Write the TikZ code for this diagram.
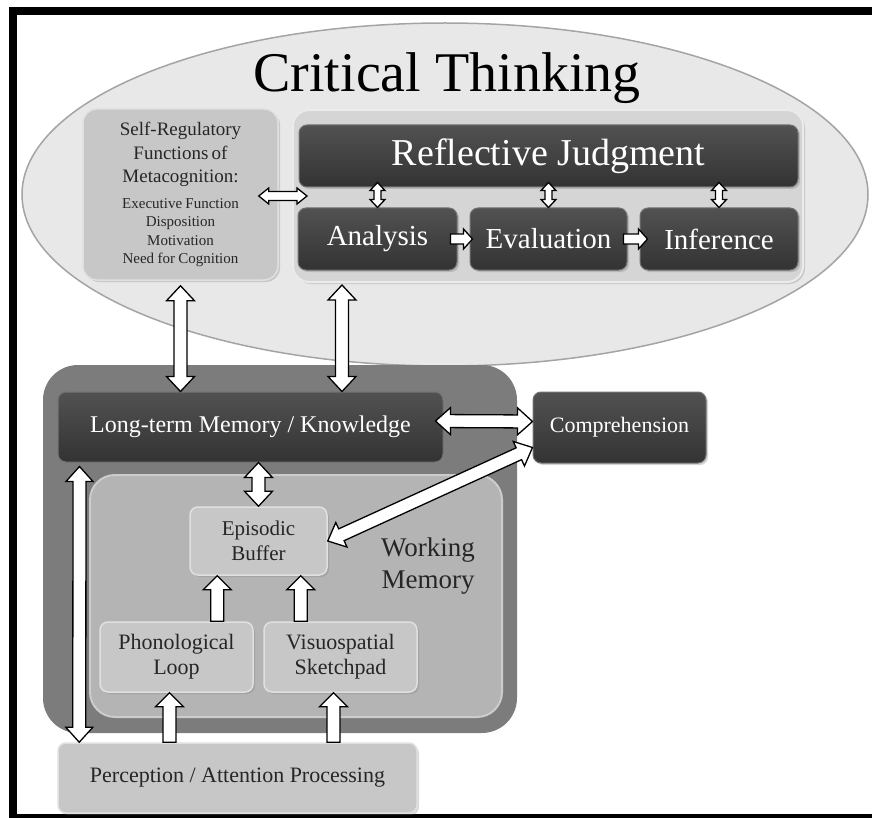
\documentclass[tikz,border=0pt]{standalone}
\usepackage{fontspec}
\setmainfont{Liberation Serif}
\usetikzlibrary{decorations.markings,shadows,shapes.geometric}

\definecolor{darkfill}{HTML}{3E3E3E}
\definecolor{ellfill}{HTML}{E8E8E8}
\definecolor{ellline}{HTML}{A4A4A4}
\definecolor{ctrfill}{HTML}{D5D5D5}
\definecolor{boxfill}{HTML}{C7C7C7}
\definecolor{outerfill}{HTML}{7C7C7C}
\definecolor{wmfill}{HTML}{B4B4B4}

\tikzset{
  arrline/.style={draw=black, line width=1.3pt, fill=white, line join=miter},
  twoway/.style n args={3}{decoration={markings, mark=at position 0 with {
      \def\arrlen{\pgfdecoratedpathlength}
      \draw[arrline] (0pt,0pt) -- (#1,#2) -- (#1,#3) -- ({\arrlen-#1},#3)
        -- ({\arrlen-#1},#2) -- ({\arrlen+0pt},0pt) -- ({\arrlen-#1},-#2)
        -- ({\arrlen-#1},-#3) -- (#1,-#3) -- (#1,-#2) -- cycle;}}, decorate},
  oneway/.style n args={3}{decoration={markings, mark=at position 0 with {
      \def\arrlen{\pgfdecoratedpathlength}
      \draw[arrline] (0pt,#3) -- ({\arrlen-#1},#3) -- ({\arrlen-#1},#2)
        -- ({\arrlen+0pt},0pt) -- ({\arrlen-#1},-#2) -- ({\arrlen-#1},-#3)
        -- (0pt,-#3) -- cycle;}}, decorate},
  darkbox/.style={rounded corners=8pt, inner sep=0pt, draw=black!55, line width=1pt,
    top color=black!68, bottom color=black!80, text=white,
    drop shadow={opacity=0.35, shadow xshift=2pt, shadow yshift=-2pt}},
  greybox/.style={rounded corners=8pt, inner sep=0pt, fill=boxfill, draw=white!88!black,
    line width=1.5pt, text=black!85,
    drop shadow={opacity=0.3, shadow xshift=2pt, shadow yshift=-2pt}},
}

\begin{document}
\begin{tikzpicture}[x=1pt, y=-1pt]
  \useasboundingbox (0,0) rectangle (872,818);
  \draw[line width=8pt] (880,11) -- (13,11) -- (13,818) -- (880,818);

  % critical thinking
  \node[ellipse, fill=ellfill, draw=ellline, line width=1.5pt, minimum width=846pt, minimum height=343pt] (ct) at (445,194.5) {};
  \node[anchor=base, font=\fontsize{56}{60}\selectfont] (title) at (447,92) {Critical Thinking};
  \node[greybox, rounded corners=14pt, minimum width=195pt, minimum height=171pt, text width=190pt, align=center] (selfreg) at (180.5,194.5)
    {{\fontsize{19}{23.5}\selectfont Self-Regulatory\par Functions of\par Metacognition:\par}\vspace{7.5pt}
     {\fontsize{15}{18.3}\selectfont Executive Function\par Disposition\par Motivation\par Need for Cognition\par}};
  \node[rounded corners=16pt, fill=ctrfill, draw=white!92!black, line width=2pt, minimum width=510pt, minimum height=172pt,
    drop shadow={opacity=0.3, shadow xshift=2pt, shadow yshift=-2pt}] (ctr) at (548,196) {};
  \node[darkbox, minimum width=499pt, minimum height=62pt, font=\fontsize{38}{40}\selectfont] (rj) at (548.5,156) {Reflective Judgment};
  \node[darkbox, minimum width=159pt, minimum height=62pt, font=\fontsize{29}{32}\selectfont] (ana) at (377.5,239) {Analysis};
  \node[darkbox, minimum width=157pt, minimum height=62pt, font=\fontsize{29}{32}\selectfont] (eva) at (548.5,239) {Evaluation};
  \node[darkbox, minimum width=158pt, minimum height=62pt, font=\fontsize{29}{32}\selectfont] (inf) at (719,239) {Inference};

  % memory
  \node[rounded corners=35pt, fill=outerfill, minimum width=474pt, minimum height=368pt] (mem) at (280,549) {};
  \node[darkbox, minimum width=385pt, minimum height=70pt, font=\fontsize{24}{28}\selectfont] (ltm) at (250.5,427) {Long-term Memory / Knowledge};
  \node[darkbox, minimum width=173pt, minimum height=71pt, font=\fontsize{22}{26}\selectfont] (comp) at (619.5,427.5) {Comprehension};
  \node[rounded corners=25pt, fill=wmfill, draw=white!80!black, line width=2pt, minimum width=412pt, minimum height=242pt] (wm) at (296,596) {};
  \node[align=center, font=\fontsize{27}{32}\selectfont, text=black!85] (wmtext) at (428,566) {Working\\Memory};
  \node[greybox, minimum width=137pt, minimum height=68pt, align=center, font=\fontsize{21}{25}\selectfont] (epi) at (258.5,541) {Episodic\\Buffer};
  \node[greybox, minimum width=153pt, minimum height=70pt, align=center, font=\fontsize{22}{25}\selectfont] (phon) at (176.5,657) {Phonological\\Loop};
  \node[greybox, minimum width=153pt, minimum height=70pt, align=center, font=\fontsize{22}{25}\selectfont] (visuo) at (340.5,657) {Visuospatial\\Sketchpad};
  \node[greybox, minimum width=359pt, minimum height=70pt, font=\fontsize{22}{26}\selectfont] (perc) at (237.5,778) {Perception / Attention Processing};

  % arrows inside critical thinking
  \foreach \n in {ana,eva,inf}
    \path[twoway={8pt}{7.5pt}{3.5pt}] ([yshift=5pt]rj.south -| \n.north) -- (\n.north);
  \path[twoway={10pt}{8pt}{4.5pt}] ([xshift=-20pt]selfreg.east |- ctr.west) -- ([xshift=15pt]ctr.west);
  \path[oneway={9pt}{10pt}{5pt}] ([xshift=-7pt]ana.east) -- ([xshift=3pt]eva.west);
  \path[oneway={9pt}{10pt}{5pt}] ([xshift=-4pt]eva.east) -- ([xshift=8pt]inf.west);

  % thinking <-> memory
  \coordinate (rjdown) at (342,285);
  \path[twoway={15pt}{14pt}{6.5pt}] ([yshift=-5pt]selfreg.south) -- (selfreg.south |- ltm.north);
  \path[twoway={15pt}{14pt}{6.5pt}] (rjdown) -- (rjdown |- ltm.north);
  \path[twoway={15pt}{13.5pt}{6.5pt}] ([xshift=-8pt,yshift=6pt]ltm.east) -- ([yshift=6pt]comp.west);
  \path[twoway={15pt}{13.5pt}{6.5pt}] ([yshift=-20pt]comp.west) -- (epi.east);
  \path[twoway={15pt}{14pt}{6.5pt}] (ltm.south -| epi.north) -- (epi.north);
  \path[twoway={15pt}{13.5pt}{6.5pt}] ([xshift=22pt,yshift=-4pt]ltm.south west) -- ([xshift=22pt]perc.north west);

  % into working memory
  \path[oneway={14pt}{14pt}{6.5pt}] ([xshift=28pt]epi.south west |- phon.north) -- ([xshift=28pt]epi.south west);
  \path[oneway={14pt}{14pt}{6.5pt}] ([xshift=-27pt]epi.south east |- visuo.north) -- ([xshift=-27pt]epi.south east);
  \path[oneway={14pt}{14pt}{6.5pt}] ([xshift=-7pt]phon.south |- perc.north) -- ([xshift=-7pt]phon.south);
  \path[oneway={14pt}{14pt}{6.5pt}] ([xshift=-7pt]visuo.south |- perc.north) -- ([xshift=-7pt]visuo.south);
\end{tikzpicture}
\end{document}
